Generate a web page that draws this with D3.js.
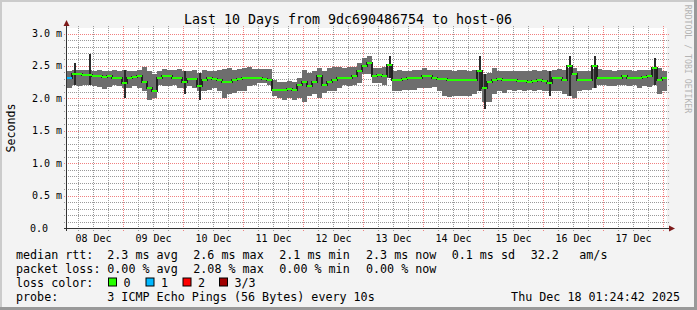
<!DOCTYPE html>
<html>
<head>
<meta charset="utf-8">
<script src="https://cdn.jsdelivr.net/npm/d3@7"></script>
<style>
	body { margin: 0; background: #f3f3f3; }
	svg { display: block; font-family: 'DejaVu Sans Mono', monospace; }
</style>
</head>
<body>
<div id="chart"></div>
<script>
// ------------------------------------------------------
// Data (values in ms, one sample every 2 hours)

const titleText = 'Last 10 Days from 9dc690486754 to host-06'
const startTime = new Date(Date.UTC(2025, 11, 8, 1, 24, 42))
const endTime = new Date(Date.UTC(2025, 11, 18, 1, 24, 42))

const medianMs = [
	2.32, 2.38, 2.37, 2.36, 2.36, 2.34, 2.34, 2.33, 2.34, 2.32,
	2.32, 2.24, 2.31, 2.33, 2.34, 2.26, 2.16, 2.11, 2.32, 2.34,
	2.34, 2.32, 2.31, 2.26, 2.30, 2.30, 2.19, 2.29, 2.32, 2.30,
	2.29, 2.26, 2.26, 2.29, 2.30, 2.31, 2.32, 2.31, 2.31, 2.30,
	2.29, 2.13, 2.13, 2.13, 2.15, 2.13, 2.21, 2.26, 2.19, 2.26,
	2.34, 2.21, 2.26, 2.29, 2.32, 2.32, 2.31, 2.34, 2.42, 2.50,
	2.55, 2.34, 2.36, 2.34, 2.52, 2.28, 2.29, 2.30, 2.31, 2.31,
	2.32, 2.34, 2.34, 2.32, 2.30, 2.30, 2.29, 2.28, 2.29, 2.28,
	2.29, 2.29, 2.42, 2.16, 2.26, 2.29, 2.30, 2.29, 2.29, 2.28,
	2.27, 2.27, 2.26, 2.27, 2.29, 2.27, 2.24, 2.32, 2.32, 2.29,
	2.50, 2.37, 2.29, 2.29, 2.29, 2.50, 2.32, 2.32, 2.32, 2.32,
	2.32, 2.34, 2.32, 2.32, 2.32, 2.33, 2.34, 2.47, 2.29, 2.32
]

const maxMs = [
	2.42, 2.55, 2.44, 2.44, 2.68, 2.43, 2.44, 2.43, 2.43, 2.44,
	2.43, 2.44, 2.43, 2.42, 2.44, 2.48, 2.42, 2.37, 2.43, 2.46,
	2.44, 2.44, 2.46, 2.43, 2.43, 2.44, 2.39, 2.44, 2.43, 2.42,
	2.44, 2.46, 2.47, 2.44, 2.46, 2.47, 2.48, 2.46, 2.46, 2.46,
	2.46, 2.29, 2.26, 2.26, 2.27, 2.26, 2.31, 2.44, 2.39, 2.42,
	2.47, 2.42, 2.47, 2.49, 2.48, 2.47, 2.48, 2.49, 2.55, 2.62,
	2.66, 2.47, 2.47, 2.48, 2.65, 2.42, 2.44, 2.43, 2.42, 2.44,
	2.44, 2.47, 2.44, 2.44, 2.44, 2.44, 2.44, 2.43, 2.44, 2.44,
	2.43, 2.44, 2.65, 2.37, 2.39, 2.47, 2.42, 2.42, 2.42, 2.42,
	2.42, 2.42, 2.43, 2.44, 2.43, 2.44, 2.42, 2.44, 2.46, 2.44,
	2.65, 2.47, 2.42, 2.42, 2.42, 2.65, 2.46, 2.44, 2.44, 2.43,
	2.44, 2.44, 2.44, 2.43, 2.44, 2.44, 2.44, 2.62, 2.47, 2.42
]

const minMs = [
	2.16, 2.21, 2.19, 2.21, 2.20, 2.19, 2.17, 2.14, 2.17, 2.20,
	2.19, 2.00, 2.16, 2.19, 2.16, 2.11, 1.98, 2.01, 2.21, 2.19,
	2.19, 2.21, 2.16, 2.06, 2.19, 2.16, 1.98, 2.11, 2.13, 2.16,
	2.11, 2.01, 2.06, 2.08, 2.11, 2.11, 2.19, 2.21, 2.24, 2.24,
	2.21, 2.03, 2.01, 1.98, 2.01, 1.98, 2.01, 1.95, 2.03, 2.06,
	2.01, 2.08, 2.11, 2.11, 2.16, 2.21, 2.19, 2.21, 2.24, 2.37,
	2.38, 2.24, 2.24, 2.21, 2.31, 2.11, 2.11, 2.13, 2.13, 2.13,
	2.16, 2.16, 2.16, 2.17, 2.11, 2.03, 2.02, 2.03, 2.03, 2.03,
	2.03, 2.06, 2.11, 1.83, 1.95, 2.06, 2.11, 2.08, 2.13, 2.11,
	2.13, 2.11, 2.13, 2.11, 2.13, 2.11, 2.03, 2.11, 2.11, 2.06,
	2.03, 2.01, 2.11, 2.13, 2.13, 2.16, 2.21, 2.20, 2.19, 2.19,
	2.21, 2.20, 2.19, 2.20, 2.16, 2.19, 2.17, 2.21, 2.06, 2.11
]

// pings lost per sample (index into lossLabels)
const lossCount = [
	1, 0, 0, 0, 0, 0, 0, 0, 0, 0, 0, 0, 0, 0, 0, 0, 0, 0, 0, 0,
	0, 0, 0, 0, 0, 0, 0, 0, 0, 0, 0, 0, 0, 0, 0, 0, 0, 0, 0, 0,
	0, 0, 0, 0, 0, 0, 0, 0, 0, 0, 0, 0, 0, 0, 0, 0, 0, 0, 0, 0,
	0, 0, 0, 0, 0, 0, 0, 0, 0, 0, 0, 0, 0, 0, 0, 0, 0, 0, 0, 0,
	0, 0, 0, 0, 0, 0, 0, 0, 0, 0, 0, 0, 0, 0, 0, 0, 0, 0, 0, 0,
	0, 0, 0, 0, 0, 0, 0, 0, 0, 0, 0, 0, 0, 0, 0, 0, 0, 0, 0, 0
]

const lossLabels = ['0', '1', '2', '3/3']
const lossColors = ['#26ff00', '#00b8ff', '#ff0000', '#a00000']

const rttLabel = 'median rtt:'
const rttStats = ['2.3 ms avg', '2.6 ms max', '2.1 ms min', '2.3 ms now', '0.1 ms sd', '32.2', 'am/s']
const lossLabel = 'packet loss:'
const lossStats = ['0.00 % avg', '2.08 % max', '0.00 % min', '0.00 % now']
const probeLabel = 'probe:'
const probeText = '3 ICMP Echo Pings (56 Bytes) every 10s'
const stampText = 'Thu Dec 18 01:24:42 2025'

// ------------------------------------------------------
// Layout

const width = 697
const height = 310
const plotLeft = 67
const plotTop = 28
const plotW = 600
const plotH = 200
const yMax = 3.086
const statX = [107.3, 193.3, 279.3, 366, 451.7, 530.7, 579.3]
const boxX = [108, 145.5, 182.5, 219]

const svg = d3.select('#chart')
	.append('svg')
	.attr('width', width)
	.attr('height', height)

// frame with rrdtool style shading
svg.append('rect').attr('width', width).attr('height', height).attr('fill', '#f3f3f3')
svg.append('path').attr('d', `M0,1H${width}M1,0V${height}`).attr('stroke', '#cbcbcb').attr('stroke-width', 2)
svg.append('path').attr('d', `M0,${height - 1.5}H${width}M${width - 1.5},0V${height}`).attr('stroke', '#999').attr('stroke-width', 3)

// ------------------------------------------------------
// Scales

const x = d3.scaleUtc()
	.domain([startTime, endTime])
	.range([plotLeft, plotLeft + plotW])

const y = d3.scaleLinear()
	.domain([0, yMax])
	.range([plotTop + plotH, plotTop])

const step = (endTime - startTime) / medianMs.length
const samples = medianMs.map((m, i) => ({
	t0: new Date(+startTime + i * step),
	t1: new Date(+startTime + (i + 1) * step),
	med: m,
	lo: minMs[i],
	hi: maxMs[i],
	loss: lossCount[i]
}))

svg.append('rect')
	.attr('x', plotLeft)
	.attr('y', plotTop)
	.attr('width', plotW)
	.attr('height', plotH)
	.attr('fill', '#fff')

// ------------------------------------------------------
// Grid (dotted, as rrdtool draws it)

const px = v => Math.round(v) + 0.5

const sixHours = d3.utcHour.every(6).range(startTime, endTime).filter(d => d.getUTCHours() !== 0)
const days = d3.utcDay.range(startTime, endTime)
const minorY = d3.range(1, 31).map(k => k / 10).filter((v, k) => (k + 1) % 5 !== 0)
const majorY = d3.range(1, 7).map(k => k / 2)

function vGrid(data, color) {
	svg.append('g')
		.selectAll('line')
		.data(data)
		.join('line')
		.attr('x1', d => px(x(d))).attr('x2', d => px(x(d)))
		.attr('y1', plotTop - 2).attr('y2', plotTop + plotH + 3)
		.attr('stroke', color)
		.attr('stroke-width', 1)
		.attr('stroke-dasharray', '1 1')
}

function hGrid(data, color) {
	svg.append('g')
		.selectAll('line')
		.data(data)
		.join('line')
		.attr('x1', plotLeft - 3).attr('x2', plotLeft + plotW + 3)
		.attr('y1', d => px(y(d))).attr('y2', d => px(y(d)))
		.attr('stroke', color)
		.attr('stroke-width', 1)
		.attr('stroke-dasharray', '1 1')
}

vGrid(sixHours, '#999999')
hGrid(minorY, '#999999')
vGrid(days, '#f08080')
hGrid(majorY, '#f08080')

// ------------------------------------------------------
// Smoke, spikes and median

const g = svg.append('g').attr('shape-rendering', 'crispEdges')

// cap single-sample spikes at the neighbours' level, draw the rest as a thin dark stroke
const bodyHi = samples.map((d, i) => {
	const nb = Math.max((samples[i - 1] || d).hi, (samples[i + 1] || d).hi)
	return d.hi - nb > 0.08 ? nb : d.hi
})
const bodyLo = samples.map((d, i) => {
	const nb = Math.min((samples[i - 1] || d).lo, (samples[i + 1] || d).lo)
	return nb - d.lo > 0.08 ? nb : d.lo
})

g.selectAll('.smoke')
	.data(samples)
	.join('rect')
	.attr('x', d => x(d.t0))
	.attr('width', d => x(d.t1) - x(d.t0))
	.attr('y', (d, i) => y(bodyHi[i]))
	.attr('height', (d, i) => y(bodyLo[i]) - y(bodyHi[i]))
	.attr('fill', '#6e6e6e')

g.selectAll('.spike')
	.data(samples.filter((d, i) => bodyHi[i] < d.hi || bodyLo[i] > d.lo))
	.join('rect')
	.attr('x', d => (x(d.t0) + x(d.t1)) / 2 - 1)
	.attr('width', 2)
	.attr('y', d => y(d.hi))
	.attr('height', d => y(d.lo) - y(d.hi))
	.attr('fill', '#2a2a2a')

// dark steps where the median moves
g.selectAll('.step')
	.data(samples.slice(1))
	.join('rect')
	.attr('x', d => x(d.t0) - 1)
	.attr('width', 2)
	.attr('y', (d, i) => y(Math.max(d.med, samples[i].med)) - 1)
	.attr('height', (d, i) => Math.abs(y(d.med) - y(samples[i].med)) + 2)
	.attr('fill', '#222')

g.selectAll('.median')
	.data(samples)
	.join('rect')
	.attr('x', d => x(d.t0))
	.attr('width', d => x(d.t1) - x(d.t0))
	.attr('y', d => y(d.med) - 1)
	.attr('height', 2)
	.attr('fill', d => lossColors[d.loss])

// ------------------------------------------------------
// Axes

const axisColor = '#333'
const arrowColor = '#7d1a1a'

svg.append('line')
	.attr('x1', plotLeft - 3).attr('x2', plotLeft + plotW + 3)
	.attr('y1', plotTop + plotH + 0.5).attr('y2', plotTop + plotH + 0.5)
	.attr('stroke', axisColor)
svg.append('line')
	.attr('x1', plotLeft - 0.5).attr('x2', plotLeft - 0.5)
	.attr('y1', plotTop + plotH + 3).attr('y2', plotTop - 2)
	.attr('stroke', axisColor)

svg.append('path')
	.attr('d', `M${plotLeft + plotW + 2},${plotTop + plotH - 2.5}L${plotLeft + plotW + 8},${plotTop + plotH + 0.5}L${plotLeft + plotW + 2},${plotTop + plotH + 3.5}Z`)
	.attr('fill', arrowColor)
svg.append('path')
	.attr('d', `M${plotLeft - 3.5},${plotTop - 2}L${plotLeft - 0.5},${plotTop - 8}L${plotLeft + 2.5},${plotTop - 2}Z`)
	.attr('fill', arrowColor)

// y tick labels
svg.selectAll('.ylab')
	.data([0].concat(majorY))
	.join('text')
	.attr('x', d => d === 0 ? plotLeft - 19 : plotLeft - 5)
	.attr('y', d => y(d) + 3.5)
	.attr('text-anchor', 'end')
	.attr('font-size', 10)
	.attr('fill', '#000')
	.text(d => d === 0 ? '0.0' : d3.format('.1f')(d) + ' m')

// x tick labels at noon of each day that lies inside the graph
svg.selectAll('.xlab')
	.data(d3.utcDay.range(d3.utcDay.floor(startTime), endTime)
		.filter(d => d3.utcHour.offset(d, 12) < endTime))
	.join('text')
	.attr('x', d => x(d3.utcHour.offset(d, 12)))
	.attr('y', plotTop + plotH + 13.5)
	.attr('text-anchor', 'middle')
	.attr('font-size', 10)
	.attr('fill', '#000')
	.text(d3.utcFormat('%d %b'))

// ------------------------------------------------------
// Titles

svg.append('text')
	.attr('x', 348)
	.attr('y', 23.5)
	.attr('text-anchor', 'middle')
	.attr('font-size', 13.3)
	.attr('fill', '#000')
	.text(titleText)

svg.append('text')
	.attr('transform', 'translate(14.5,128) rotate(-90)')
	.attr('text-anchor', 'middle')
	.attr('font-size', 11.6)
	.attr('fill', '#000')
	.text('Seconds')

svg.append('text')
	.attr('transform', 'translate(684.5,59) rotate(90)')
	.attr('text-anchor', 'middle')
	.attr('font-size', 8.2)
	.attr('fill', '#b4b4b4')
	.text('RRDTOOL / TOBI OETIKER')

// ------------------------------------------------------
// Legend

const legend = svg.append('g')
	.attr('font-size', 11.7)
	.attr('fill', '#000')

const rowY = [258.5, 272.5, 286.5, 300.5]

legend.append('text').attr('x', 16).attr('y', rowY[0]).text(rttLabel)
rttStats.forEach((s, i) => legend.append('text').attr('x', statX[i]).attr('y', rowY[0]).text(s))

legend.append('text').attr('x', 16).attr('y', rowY[1]).text(lossLabel)
lossStats.forEach((s, i) => legend.append('text').attr('x', statX[i]).attr('y', rowY[1]).text(s))

legend.append('text').attr('x', 16).attr('y', rowY[2]).text('loss color:')
lossLabels.forEach((s, i) => {
	legend.append('rect')
		.attr('x', boxX[i] + 0.5).attr('y', rowY[2] - 8.5)
		.attr('width', 8).attr('height', 8)
		.attr('fill', lossColors[i])
		.attr('stroke', '#000')
	legend.append('text').attr('x', boxX[i] + 15.5).attr('y', rowY[2]).text(s)
})

legend.append('text').attr('x', 16).attr('y', rowY[3]).text(probeLabel)
legend.append('text').attr('x', statX[0]).attr('y', rowY[3]).text(probeText)
legend.append('text').attr('x', 680).attr('y', rowY[3]).attr('text-anchor', 'end').text(stampText)
</script>
</body>
</html>
